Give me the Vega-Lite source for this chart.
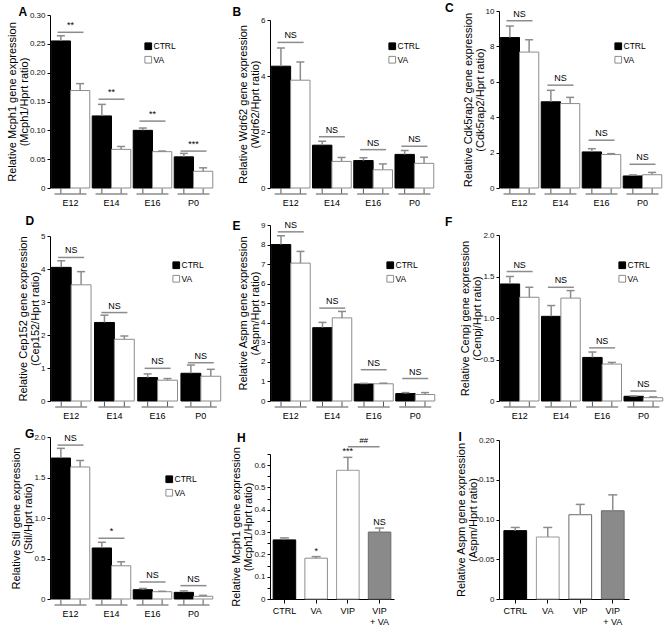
{
"$schema":"https://vega.github.io/schema/vega-lite/v6.json",
"padding":{"left":6,"top":2,"right":0,"bottom":0},
"columns":3,
"align":"each",
"spacing":{"row":8,"column":8},
"resolve":{"scale":{"fill":"independent","stroke":"independent","xOffset":"independent"},"legend":{"fill":"independent","stroke":"independent"}},
"datasets":{
"A":[{"t":"E12","g":"CTRL","v":0.255,"hi":0.264},{"t":"E12","g":"VA","v":0.169,"hi":0.181},{"t":"E14","g":"CTRL","v":0.125,"hi":0.145},{"t":"E14","g":"VA","v":0.067,"hi":0.072},{"t":"E16","g":"CTRL","v":0.1,"hi":0.104},{"t":"E16","g":"VA","v":0.063,"hi":0.064},{"t":"P0","g":"CTRL","v":0.054,"hi":0.06},{"t":"P0","g":"VA","v":0.029,"hi":0.035}],
"As":[{"t":"E12","s":0.27,"lab":"**"},{"t":"E14","s":0.154,"lab":"**"},{"t":"E16","s":0.116,"lab":"**"},{"t":"P0","s":0.064,"lab":"***"}],
"B":[{"t":"E12","g":"CTRL","v":4.35,"hi":5.0},{"t":"E12","g":"VA","v":3.85,"hi":4.5},{"t":"E14","g":"CTRL","v":1.53,"hi":1.67},{"t":"E14","g":"VA","v":0.95,"hi":1.09},{"t":"E16","g":"CTRL","v":0.98,"hi":1.08},{"t":"E16","g":"VA","v":0.65,"hi":0.86},{"t":"P0","g":"CTRL","v":1.2,"hi":1.34},{"t":"P0","g":"VA","v":0.88,"hi":1.1}],
"Bs":[{"t":"E12","s":5.2,"lab":"NS"},{"t":"E14","s":1.83,"lab":"NS"},{"t":"E16","s":1.37,"lab":"NS"},{"t":"P0","s":1.49,"lab":"NS"}],
"C":[{"t":"E12","g":"CTRL","v":8.5,"hi":9.15},{"t":"E12","g":"VA","v":7.68,"hi":8.37},{"t":"E14","g":"CTRL","v":4.87,"hi":5.52},{"t":"E14","g":"VA","v":4.77,"hi":5.12},{"t":"E16","g":"CTRL","v":2.04,"hi":2.22},{"t":"E16","g":"VA","v":1.89,"hi":1.94},{"t":"P0","g":"CTRL","v":0.68,"hi":0.74},{"t":"P0","g":"VA","v":0.75,"hi":0.88}],
"Cs":[{"t":"E12","s":9.45,"lab":"NS"},{"t":"E14","s":5.81,"lab":"NS"},{"t":"E16","s":2.7,"lab":"NS"},{"t":"P0","s":1.34,"lab":"NS"}],
"D":[{"t":"E12","g":"CTRL","v":4.05,"hi":4.25},{"t":"E12","g":"VA","v":3.52,"hi":3.92},{"t":"E14","g":"CTRL","v":2.38,"hi":2.6},{"t":"E14","g":"VA","v":1.87,"hi":1.97},{"t":"E16","g":"CTRL","v":0.71,"hi":0.82},{"t":"E16","g":"VA","v":0.63,"hi":0.68},{"t":"P0","g":"CTRL","v":0.84,"hi":1.09},{"t":"P0","g":"VA","v":0.75,"hi":0.96}],
"Ds":[{"t":"E12","s":4.35,"lab":"NS"},{"t":"E14","s":2.68,"lab":"NS"},{"t":"E16","s":0.99,"lab":"NS"},{"t":"P0","s":1.16,"lab":"NS"}],
"E":[{"t":"E12","g":"CTRL","v":8.0,"hi":8.45},{"t":"E12","g":"VA","v":7.05,"hi":7.65},{"t":"E14","g":"CTRL","v":3.75,"hi":4.02},{"t":"E14","g":"VA","v":4.25,"hi":4.58},{"t":"E16","g":"CTRL","v":0.87,"hi":0.9},{"t":"E16","g":"VA","v":0.88,"hi":0.91},{"t":"P0","g":"CTRL","v":0.38,"hi":0.43},{"t":"P0","g":"VA","v":0.33,"hi":0.43}],
"Es":[{"t":"E12","s":8.65,"lab":"NS"},{"t":"E14","s":4.75,"lab":"NS"},{"t":"E16","s":1.6,"lab":"NS"},{"t":"P0","s":1.15,"lab":"NS"}],
"F":[{"t":"E12","g":"CTRL","v":1.41,"hi":1.5},{"t":"E12","g":"VA","v":1.25,"hi":1.37},{"t":"E14","g":"CTRL","v":1.02,"hi":1.15},{"t":"E14","g":"VA","v":1.24,"hi":1.33},{"t":"E16","g":"CTRL","v":0.525,"hi":0.59},{"t":"E16","g":"VA","v":0.445,"hi":0.465},{"t":"P0","g":"CTRL","v":0.057,"hi":0.06},{"t":"P0","g":"VA","v":0.04,"hi":0.05}],
"Fs":[{"t":"E12","s":1.56,"lab":"NS"},{"t":"E14","s":1.37,"lab":"NS"},{"t":"E16","s":0.64,"lab":"NS"},{"t":"P0","s":0.12,"lab":"NS"}],
"G":[{"t":"E12","g":"CTRL","v":1.74,"hi":1.86},{"t":"E12","g":"VA","v":1.63,"hi":1.71},{"t":"E14","g":"CTRL","v":0.63,"hi":0.7},{"t":"E14","g":"VA","v":0.41,"hi":0.46},{"t":"E16","g":"CTRL","v":0.115,"hi":0.13},{"t":"E16","g":"VA","v":0.09,"hi":0.095},{"t":"P0","g":"CTRL","v":0.082,"hi":0.1},{"t":"P0","g":"VA","v":0.033,"hi":0.045}],
"Gs":[{"t":"E12","s":1.9,"lab":"NS"},{"t":"E14","s":0.75,"lab":"*"},{"t":"E16","s":0.21,"lab":"NS"},{"t":"P0","s":0.165,"lab":"NS"}],
"H":[{"c":"CTRL","v":0.265,"hi":0.274,"lab":""},{"c":"VA","v":0.183,"hi":0.19,"lab":"*"},{"c":"VIP","v":0.577,"hi":0.635,"lab":"***"},{"c":"VIP + VA","v":0.3,"hi":0.318,"lab":"NS"}],
"Hs":[{"from":"VIP","to":"VIP + VA","s":0.682,"lab":"##"}],
"I":[{"c":"CTRL","v":0.086,"hi":0.09},{"c":"VA","v":0.078,"hi":0.09},{"c":"VIP","v":0.106,"hi":0.119},{"c":"VIP + VA","v":0.111,"hi":0.131}]
},
"concat":[
{"width":164,"height":177,"title":{"text":"A","dx":12},
"resolve":{"axis":{"x":"independent","y":"independent"}},
"layer":[
{"data":{"name":"A"},"mark":{"type":"bar","strokeWidth":1},"encoding":{
"x":{"field":"t","type":"nominal","scale":{"domain":["E12","E14","E16","P0"],"paddingInner":0.06,"paddingOuter":0.03},"axis":{"title":null,"domain":false,"ticks":false,"labelPadding":10}},
"xOffset":{"field":"g","type":"nominal","scale":{"domain":["CTRL","VA"]}},
"y":{"field":"v","type":"quantitative","scale":{"domain":[0,0.3],"range":[177,4],"nice":false},"axis":{"title":["Relative Mcph1 gene expression","(Mcph1/Hprt ratio)"],"values":[0,0.05,0.1,0.15,0.2,0.25,0.3],"labelOverlap":false,"labelExpr":"datum.value == 0 ? '0' : format(datum.value, '.2f')"}},
"fill":{"field":"g","type":"nominal","scale":{"domain":["CTRL","VA"],"range":["#000000","#ffffff"]},"legend":{"title":null,"orient":"none","legendX":94,"legendY":31}},
"stroke":{"field":"g","type":"nominal","scale":{"domain":["CTRL","VA"],"range":["#000000","#8c8c8c"]},"legend":null}}},
{"data":{"name":"A"},"mark":{"type":"rule","color":"#8c8c8c","strokeWidth":1.5},"encoding":{"x":{"field":"t","type":"nominal","axis":null},"xOffset":{"field":"g","type":"nominal"},"y":{"field":"v","type":"quantitative","axis":null},"y2":{"field":"hi"}}},
{"data":{"name":"A"},"mark":{"type":"tick","color":"#8c8c8c","thickness":1.5,"size":8,"opacity":1},"encoding":{"x":{"field":"t","type":"nominal","axis":null},"xOffset":{"field":"g","type":"nominal"},"y":{"field":"hi","type":"quantitative","axis":null}}},
{"data":{"name":"A"},"mark":{"type":"tick","orient":"vertical","color":"#555555","thickness":1,"size":5,"yOffset":3,"opacity":1},"encoding":{"x":{"field":"t","type":"nominal","axis":null},"xOffset":{"field":"g","type":"nominal"},"y":{"datum":0,"type":"quantitative","axis":null}}},
{"data":{"name":"As"},"mark":{"type":"tick","color":"#555555","thickness":1.2,"size":32,"yOffset":6,"opacity":1},"encoding":{"x":{"field":"t","type":"nominal","axis":null},"y":{"datum":0,"type":"quantitative","axis":null}}},
{"data":{"name":"As"},"mark":{"type":"tick","color":"#8c8c8c","thickness":1.5,"size":26,"opacity":1},"encoding":{"x":{"field":"t","type":"nominal","axis":null},"y":{"field":"s","type":"quantitative","axis":null}}},
{"data":{"name":"As"},"mark":{"type":"text","fontSize":9,"baseline":"bottom","dy":-2,"color":"#000000"},"encoding":{"x":{"field":"t","type":"nominal","axis":null},"y":{"field":"s","type":"quantitative","axis":null},"text":{"field":"lab"}}}
]},
{"width":165,"height":177,"title":{"text":"B","dx":-5},
"resolve":{"axis":{"x":"independent","y":"independent"}},
"layer":[
{"data":{"name":"B"},"mark":{"type":"bar","strokeWidth":1},"encoding":{
"x":{"field":"t","type":"nominal","scale":{"domain":["E12","E14","E16","P0"],"paddingInner":0.06,"paddingOuter":0.03},"axis":{"title":null,"domain":false,"ticks":false,"labelPadding":10}},
"xOffset":{"field":"g","type":"nominal","scale":{"domain":["CTRL","VA"]}},
"y":{"field":"v","type":"quantitative","scale":{"domain":[0,6],"range":[177,9],"nice":false},"axis":{"title":["Relative Wdr62 gene expression","(Wdr62/Hprt ratio)"],"values":[0,2,4,6],"labelOverlap":false}},
"fill":{"field":"g","type":"nominal","scale":{"domain":["CTRL","VA"],"range":["#000000","#ffffff"]},"legend":{"title":null,"orient":"none","legendX":118,"legendY":31}},
"stroke":{"field":"g","type":"nominal","scale":{"domain":["CTRL","VA"],"range":["#000000","#8c8c8c"]},"legend":null}}},
{"data":{"name":"B"},"mark":{"type":"rule","color":"#8c8c8c","strokeWidth":1.5},"encoding":{"x":{"field":"t","type":"nominal","axis":null},"xOffset":{"field":"g","type":"nominal"},"y":{"field":"v","type":"quantitative","axis":null},"y2":{"field":"hi"}}},
{"data":{"name":"B"},"mark":{"type":"tick","color":"#8c8c8c","thickness":1.5,"size":8,"opacity":1},"encoding":{"x":{"field":"t","type":"nominal","axis":null},"xOffset":{"field":"g","type":"nominal"},"y":{"field":"hi","type":"quantitative","axis":null}}},
{"data":{"name":"B"},"mark":{"type":"tick","orient":"vertical","color":"#555555","thickness":1,"size":5,"yOffset":3,"opacity":1},"encoding":{"x":{"field":"t","type":"nominal","axis":null},"xOffset":{"field":"g","type":"nominal"},"y":{"datum":0,"type":"quantitative","axis":null}}},
{"data":{"name":"Bs"},"mark":{"type":"tick","color":"#555555","thickness":1.2,"size":32,"yOffset":6,"opacity":1},"encoding":{"x":{"field":"t","type":"nominal","axis":null},"y":{"datum":0,"type":"quantitative","axis":null}}},
{"data":{"name":"Bs"},"mark":{"type":"tick","color":"#8c8c8c","thickness":1.5,"size":26,"opacity":1},"encoding":{"x":{"field":"t","type":"nominal","axis":null},"y":{"field":"s","type":"quantitative","axis":null}}},
{"data":{"name":"Bs"},"mark":{"type":"text","fontSize":9,"baseline":"bottom","dy":-2,"color":"#000000"},"encoding":{"x":{"field":"t","type":"nominal","axis":null},"y":{"field":"s","type":"quantitative","axis":null},"text":{"field":"lab"}}}
]},
{"width":164,"height":177,"title":{"text":"C","dx":-17},
"resolve":{"axis":{"x":"independent","y":"independent"}},
"layer":[
{"data":{"name":"C"},"mark":{"type":"bar","strokeWidth":1},"encoding":{
"x":{"field":"t","type":"nominal","scale":{"domain":["E12","E14","E16","P0"],"paddingInner":0.06,"paddingOuter":0.03},"axis":{"title":null,"domain":false,"ticks":false,"labelPadding":10}},
"xOffset":{"field":"g","type":"nominal","scale":{"domain":["CTRL","VA"]}},
"y":{"field":"v","type":"quantitative","scale":{"domain":[0,10],"range":[177,0],"nice":false},"axis":{"title":["Relative Cdk5rap2 gene expression","(Cdk5rap2/Hprt ratio)"],"values":[0,2,4,6,8,10],"labelOverlap":false}},
"fill":{"field":"g","type":"nominal","scale":{"domain":["CTRL","VA"],"range":["#000000","#ffffff"]},"legend":{"title":null,"orient":"none","legendX":115,"legendY":31}},
"stroke":{"field":"g","type":"nominal","scale":{"domain":["CTRL","VA"],"range":["#000000","#8c8c8c"]},"legend":null}}},
{"data":{"name":"C"},"mark":{"type":"rule","color":"#8c8c8c","strokeWidth":1.5},"encoding":{"x":{"field":"t","type":"nominal","axis":null},"xOffset":{"field":"g","type":"nominal"},"y":{"field":"v","type":"quantitative","axis":null},"y2":{"field":"hi"}}},
{"data":{"name":"C"},"mark":{"type":"tick","color":"#8c8c8c","thickness":1.5,"size":8,"opacity":1},"encoding":{"x":{"field":"t","type":"nominal","axis":null},"xOffset":{"field":"g","type":"nominal"},"y":{"field":"hi","type":"quantitative","axis":null}}},
{"data":{"name":"C"},"mark":{"type":"tick","orient":"vertical","color":"#555555","thickness":1,"size":5,"yOffset":3,"opacity":1},"encoding":{"x":{"field":"t","type":"nominal","axis":null},"xOffset":{"field":"g","type":"nominal"},"y":{"datum":0,"type":"quantitative","axis":null}}},
{"data":{"name":"Cs"},"mark":{"type":"tick","color":"#555555","thickness":1.2,"size":32,"yOffset":6,"opacity":1},"encoding":{"x":{"field":"t","type":"nominal","axis":null},"y":{"datum":0,"type":"quantitative","axis":null}}},
{"data":{"name":"Cs"},"mark":{"type":"tick","color":"#8c8c8c","thickness":1.5,"size":26,"opacity":1},"encoding":{"x":{"field":"t","type":"nominal","axis":null},"y":{"field":"s","type":"quantitative","axis":null}}},
{"data":{"name":"Cs"},"mark":{"type":"text","fontSize":9,"baseline":"bottom","dy":-2,"color":"#000000"},"encoding":{"x":{"field":"t","type":"nominal","axis":null},"y":{"field":"s","type":"quantitative","axis":null},"text":{"field":"lab"}}}
]},
{"width":172,"height":176,"title":{"text":"D","dx":8,"dy":-5},
"resolve":{"axis":{"x":"independent","y":"independent"}},
"layer":[
{"data":{"name":"D"},"mark":{"type":"bar","strokeWidth":1},"encoding":{
"x":{"field":"t","type":"nominal","scale":{"domain":["E12","E14","E16","P0"],"paddingInner":0.08,"paddingOuter":0.03},"axis":{"title":null,"domain":false,"ticks":false,"labelPadding":10}},
"xOffset":{"field":"g","type":"nominal","scale":{"domain":["CTRL","VA"]}},
"y":{"field":"v","type":"quantitative","scale":{"domain":[0,5],"range":[176,11],"nice":false},"axis":{"title":["Relative Cep152 gene expression","(Cep152/Hprt ratio)"],"values":[0,1,2,3,4,5],"labelOverlap":false}},
"fill":{"field":"g","type":"nominal","scale":{"domain":["CTRL","VA"],"range":["#000000","#ffffff"]},"legend":{"title":null,"orient":"none","legendX":122,"legendY":36}},
"stroke":{"field":"g","type":"nominal","scale":{"domain":["CTRL","VA"],"range":["#000000","#8c8c8c"]},"legend":null}}},
{"data":{"name":"D"},"mark":{"type":"rule","color":"#8c8c8c","strokeWidth":1.5},"encoding":{"x":{"field":"t","type":"nominal","axis":null},"xOffset":{"field":"g","type":"nominal"},"y":{"field":"v","type":"quantitative","axis":null},"y2":{"field":"hi"}}},
{"data":{"name":"D"},"mark":{"type":"tick","color":"#8c8c8c","thickness":1.5,"size":8,"opacity":1},"encoding":{"x":{"field":"t","type":"nominal","axis":null},"xOffset":{"field":"g","type":"nominal"},"y":{"field":"hi","type":"quantitative","axis":null}}},
{"data":{"name":"D"},"mark":{"type":"tick","orient":"vertical","color":"#555555","thickness":1,"size":5,"yOffset":3,"opacity":1},"encoding":{"x":{"field":"t","type":"nominal","axis":null},"xOffset":{"field":"g","type":"nominal"},"y":{"datum":0,"type":"quantitative","axis":null}}},
{"data":{"name":"Ds"},"mark":{"type":"tick","color":"#555555","thickness":1.2,"size":32,"yOffset":6,"opacity":1},"encoding":{"x":{"field":"t","type":"nominal","axis":null},"y":{"datum":0,"type":"quantitative","axis":null}}},
{"data":{"name":"Ds"},"mark":{"type":"tick","color":"#8c8c8c","thickness":1.5,"size":26,"opacity":1},"encoding":{"x":{"field":"t","type":"nominal","axis":null},"y":{"field":"s","type":"quantitative","axis":null}}},
{"data":{"name":"Ds"},"mark":{"type":"text","fontSize":9,"baseline":"bottom","dy":-2,"color":"#000000"},"encoding":{"x":{"field":"t","type":"nominal","axis":null},"y":{"field":"s","type":"quantitative","axis":null},"text":{"field":"lab"}}}
]},
{"width":166,"height":176,"title":{"text":"E","dx":-5,"dy":4},
"resolve":{"axis":{"x":"independent","y":"independent"}},
"layer":[
{"data":{"name":"E"},"mark":{"type":"bar","strokeWidth":1},"encoding":{
"x":{"field":"t","type":"nominal","scale":{"domain":["E12","E14","E16","P0"],"paddingInner":0.06,"paddingOuter":0.03},"axis":{"title":null,"domain":false,"ticks":false,"labelPadding":10}},
"xOffset":{"field":"g","type":"nominal","scale":{"domain":["CTRL","VA"]}},
"y":{"field":"v","type":"quantitative","scale":{"domain":[0,9],"range":[176,0],"nice":false},"axis":{"title":["Relative Aspm gene expression","(Aspm/Hprt ratio)"],"values":[0,1,2,3,4,5,6,7,8,9],"labelOverlap":false}},
"fill":{"field":"g","type":"nominal","scale":{"domain":["CTRL","VA"],"range":["#000000","#ffffff"]},"legend":{"title":null,"orient":"none","legendX":116,"legendY":36}},
"stroke":{"field":"g","type":"nominal","scale":{"domain":["CTRL","VA"],"range":["#000000","#8c8c8c"]},"legend":null}}},
{"data":{"name":"E"},"mark":{"type":"rule","color":"#8c8c8c","strokeWidth":1.5},"encoding":{"x":{"field":"t","type":"nominal","axis":null},"xOffset":{"field":"g","type":"nominal"},"y":{"field":"v","type":"quantitative","axis":null},"y2":{"field":"hi"}}},
{"data":{"name":"E"},"mark":{"type":"tick","color":"#8c8c8c","thickness":1.5,"size":8,"opacity":1},"encoding":{"x":{"field":"t","type":"nominal","axis":null},"xOffset":{"field":"g","type":"nominal"},"y":{"field":"hi","type":"quantitative","axis":null}}},
{"data":{"name":"E"},"mark":{"type":"tick","orient":"vertical","color":"#555555","thickness":1,"size":5,"yOffset":3,"opacity":1},"encoding":{"x":{"field":"t","type":"nominal","axis":null},"xOffset":{"field":"g","type":"nominal"},"y":{"datum":0,"type":"quantitative","axis":null}}},
{"data":{"name":"Es"},"mark":{"type":"tick","color":"#555555","thickness":1.2,"size":32,"yOffset":6,"opacity":1},"encoding":{"x":{"field":"t","type":"nominal","axis":null},"y":{"datum":0,"type":"quantitative","axis":null}}},
{"data":{"name":"Es"},"mark":{"type":"tick","color":"#8c8c8c","thickness":1.5,"size":26,"opacity":1},"encoding":{"x":{"field":"t","type":"nominal","axis":null},"y":{"field":"s","type":"quantitative","axis":null}}},
{"data":{"name":"Es"},"mark":{"type":"text","fontSize":9,"baseline":"bottom","dy":-2,"color":"#000000"},"encoding":{"x":{"field":"t","type":"nominal","axis":null},"y":{"field":"s","type":"quantitative","axis":null},"text":{"field":"lab"}}}
]},
{"width":165,"height":176,"title":{"text":"F","dx":-15,"dy":-4},
"resolve":{"axis":{"x":"independent","y":"independent"}},
"layer":[
{"data":{"name":"F"},"mark":{"type":"bar","strokeWidth":1},"encoding":{
"x":{"field":"t","type":"nominal","scale":{"domain":["E12","E14","E16","P0"],"paddingInner":0.06,"paddingOuter":0.03},"axis":{"title":null,"domain":false,"ticks":false,"labelPadding":10}},
"xOffset":{"field":"g","type":"nominal","scale":{"domain":["CTRL","VA"]}},
"y":{"field":"v","type":"quantitative","scale":{"domain":[0,2],"range":[176,10],"nice":false},"axis":{"title":["Relative Cenpj gene expression","(Cenpj/Hprt ratio)"],"values":[0,0.5,1,1.5,2],"labelOverlap":false,"labelExpr":"datum.value == 0 ? '0' : format(datum.value, '.1f')"}},
"fill":{"field":"g","type":"nominal","scale":{"domain":["CTRL","VA"],"range":["#000000","#ffffff"]},"legend":{"title":null,"orient":"none","legendX":119,"legendY":36}},
"stroke":{"field":"g","type":"nominal","scale":{"domain":["CTRL","VA"],"range":["#000000","#8c8c8c"]},"legend":null}}},
{"data":{"name":"F"},"mark":{"type":"rule","color":"#8c8c8c","strokeWidth":1.5},"encoding":{"x":{"field":"t","type":"nominal","axis":null},"xOffset":{"field":"g","type":"nominal"},"y":{"field":"v","type":"quantitative","axis":null},"y2":{"field":"hi"}}},
{"data":{"name":"F"},"mark":{"type":"tick","color":"#8c8c8c","thickness":1.5,"size":8,"opacity":1},"encoding":{"x":{"field":"t","type":"nominal","axis":null},"xOffset":{"field":"g","type":"nominal"},"y":{"field":"hi","type":"quantitative","axis":null}}},
{"data":{"name":"F"},"mark":{"type":"tick","orient":"vertical","color":"#555555","thickness":1,"size":5,"yOffset":3,"opacity":1},"encoding":{"x":{"field":"t","type":"nominal","axis":null},"xOffset":{"field":"g","type":"nominal"},"y":{"datum":0,"type":"quantitative","axis":null}}},
{"data":{"name":"Fs"},"mark":{"type":"tick","color":"#555555","thickness":1.2,"size":32,"yOffset":6,"opacity":1},"encoding":{"x":{"field":"t","type":"nominal","axis":null},"y":{"datum":0,"type":"quantitative","axis":null}}},
{"data":{"name":"Fs"},"mark":{"type":"tick","color":"#8c8c8c","thickness":1.5,"size":26,"opacity":1},"encoding":{"x":{"field":"t","type":"nominal","axis":null},"y":{"field":"s","type":"quantitative","axis":null}}},
{"data":{"name":"Fs"},"mark":{"type":"text","fontSize":9,"baseline":"bottom","dy":-2,"color":"#000000"},"encoding":{"x":{"field":"t","type":"nominal","axis":null},"y":{"field":"s","type":"quantitative","axis":null},"text":{"field":"lab"}}}
]},
{"width":164,"height":162,"title":{"text":"G","dx":14},
"resolve":{"axis":{"x":"independent","y":"independent"}},
"layer":[
{"data":{"name":"G"},"mark":{"type":"bar","strokeWidth":1},"encoding":{
"x":{"field":"t","type":"nominal","scale":{"domain":["E12","E14","E16","P0"],"paddingInner":0.06,"paddingOuter":0.03},"axis":{"title":null,"domain":false,"ticks":false,"labelPadding":10}},
"xOffset":{"field":"g","type":"nominal","scale":{"domain":["CTRL","VA"]}},
"y":{"field":"v","type":"quantitative","scale":{"domain":[0,2],"range":[162,0],"nice":false},"axis":{"title":["Relative Stil gene expression","(Stil/Hprt ratio)"],"values":[0,0.5,1,1.5,2],"labelOverlap":false,"labelExpr":"datum.value == 0 ? '0' : format(datum.value, '.1f')"}},
"fill":{"field":"g","type":"nominal","scale":{"domain":["CTRL","VA"],"range":["#000000","#ffffff"]},"legend":{"title":null,"orient":"none","legendX":115,"legendY":38}},
"stroke":{"field":"g","type":"nominal","scale":{"domain":["CTRL","VA"],"range":["#000000","#8c8c8c"]},"legend":null}}},
{"data":{"name":"G"},"mark":{"type":"rule","color":"#8c8c8c","strokeWidth":1.5},"encoding":{"x":{"field":"t","type":"nominal","axis":null},"xOffset":{"field":"g","type":"nominal"},"y":{"field":"v","type":"quantitative","axis":null},"y2":{"field":"hi"}}},
{"data":{"name":"G"},"mark":{"type":"tick","color":"#8c8c8c","thickness":1.5,"size":8,"opacity":1},"encoding":{"x":{"field":"t","type":"nominal","axis":null},"xOffset":{"field":"g","type":"nominal"},"y":{"field":"hi","type":"quantitative","axis":null}}},
{"data":{"name":"G"},"mark":{"type":"tick","orient":"vertical","color":"#555555","thickness":1,"size":5,"yOffset":3,"opacity":1},"encoding":{"x":{"field":"t","type":"nominal","axis":null},"xOffset":{"field":"g","type":"nominal"},"y":{"datum":0,"type":"quantitative","axis":null}}},
{"data":{"name":"Gs"},"mark":{"type":"tick","color":"#555555","thickness":1.2,"size":32,"yOffset":6,"opacity":1},"encoding":{"x":{"field":"t","type":"nominal","axis":null},"y":{"datum":0,"type":"quantitative","axis":null}}},
{"data":{"name":"Gs"},"mark":{"type":"tick","color":"#8c8c8c","thickness":1.5,"size":26,"opacity":1},"encoding":{"x":{"field":"t","type":"nominal","axis":null},"y":{"field":"s","type":"quantitative","axis":null}}},
{"data":{"name":"Gs"},"mark":{"type":"text","fontSize":9,"baseline":"bottom","dy":-2,"color":"#000000"},"encoding":{"x":{"field":"t","type":"nominal","axis":null},"y":{"field":"s","type":"quantitative","axis":null},"text":{"field":"lab"}}}
]},
{"width":124,"height":162,"title":{"text":"H","dx":6},
"resolve":{"axis":{"x":"independent","y":"independent"}},
"layer":[
{"data":{"name":"H"},"mark":{"type":"bar","strokeWidth":1},"encoding":{
"x":{"field":"c","type":"nominal","scale":{"domain":["CTRL","VA","VIP","VIP + VA"],"paddingInner":0.29,"paddingOuter":0.1},"axis":{"title":null,"tickSize":4,"labelPadding":3,"labelExpr":"datum.value == 'VIP + VA' ? ['VIP', '+ VA'] : datum.value"}},
"y":{"field":"v","type":"quantitative","scale":{"domain":[0,0.65],"range":[162,17],"nice":false},"axis":{"title":["Relative Mcph1 gene expression","(Mcph1/Hprt ratio)"],"values":[0,0.05,0.1,0.15,0.2,0.25,0.3,0.35,0.4,0.45,0.5,0.55,0.6,0.65],"labelOverlap":false,"labelExpr":"abs(datum.value*10 - round(datum.value*10)) < 0.01 ? (datum.value == 0 ? '0' : format(datum.value, '.1f')) : ''"}},
"fill":{"field":"c","type":"nominal","scale":{"domain":["CTRL","VA","VIP","VIP + VA"],"range":["#000000","#ffffff","#ffffff","#8a8a8a"]},"legend":null},
"stroke":{"field":"c","type":"nominal","scale":{"domain":["CTRL","VA","VIP","VIP + VA"],"range":["#000000","#8c8c8c","#9a9a9a","#6a6a6a"]},"legend":null}}},
{"data":{"name":"H"},"mark":{"type":"rule","color":"#8c8c8c","strokeWidth":1.5},"encoding":{"x":{"field":"c","type":"nominal","axis":null},"y":{"field":"v","type":"quantitative","axis":null},"y2":{"field":"hi"}}},
{"data":{"name":"H"},"mark":{"type":"tick","color":"#8c8c8c","thickness":1.5,"size":9,"opacity":1},"encoding":{"x":{"field":"c","type":"nominal","axis":null},"y":{"field":"hi","type":"quantitative","axis":null}}},
{"data":{"name":"H"},"mark":{"type":"text","fontSize":9,"baseline":"bottom","dy":-1,"color":"#000000"},"encoding":{"x":{"field":"c","type":"nominal","axis":null},"y":{"field":"hi","type":"quantitative","axis":null},"text":{"field":"lab"}}},
{"data":{"name":"Hs"},"mark":{"type":"rule","color":"#8c8c8c","strokeWidth":1.5},"encoding":{"x":{"field":"from","type":"nominal","axis":null},"x2":{"field":"to"},"y":{"field":"s","type":"quantitative","axis":null}}},
{"data":{"name":"Hs"},"mark":{"type":"text","fontSize":8,"fontStyle":"italic","baseline":"bottom","dy":-2,"color":"#000000"},"encoding":{"x":{"field":"from","type":"nominal","bandPosition":1.2,"axis":null},"y":{"field":"s","type":"quantitative","axis":null},"text":{"field":"lab"}}}
]},
{"width":130,"height":162,"title":{"text":"I","dx":3},
"resolve":{"axis":{"x":"independent","y":"independent"}},
"layer":[
{"data":{"name":"I"},"mark":{"type":"bar","strokeWidth":1},"encoding":{
"x":{"field":"c","type":"nominal","scale":{"domain":["CTRL","VA","VIP","VIP + VA"],"paddingInner":0.3,"paddingOuter":0.15},"axis":{"title":null,"tickSize":4,"labelPadding":3,"labelExpr":"datum.value == 'VIP + VA' ? ['VIP', '+ VA'] : datum.value"}},
"y":{"field":"v","type":"quantitative","scale":{"domain":[0,0.2],"range":[162,3],"nice":false},"axis":{"title":["Relative Aspm gene expression","(Aspm/Hprt ratio)"],"values":[0,0.05,0.1,0.15,0.2],"labelOverlap":false,"labelExpr":"datum.value == 0 ? '0' : format(datum.value, '.2f')"}},
"fill":{"field":"c","type":"nominal","scale":{"domain":["CTRL","VA","VIP","VIP + VA"],"range":["#000000","#ffffff","#ffffff","#8a8a8a"]},"legend":null},
"stroke":{"field":"c","type":"nominal","scale":{"domain":["CTRL","VA","VIP","VIP + VA"],"range":["#000000","#9a9a9a","#6a6a6a","#6a6a6a"]},"legend":null}}},
{"data":{"name":"I"},"mark":{"type":"rule","color":"#8c8c8c","strokeWidth":1.5},"encoding":{"x":{"field":"c","type":"nominal","axis":null},"y":{"field":"v","type":"quantitative","axis":null},"y2":{"field":"hi"}}},
{"data":{"name":"I"},"mark":{"type":"tick","color":"#8c8c8c","thickness":1.5,"size":9,"opacity":1},"encoding":{"x":{"field":"c","type":"nominal","axis":null},"y":{"field":"hi","type":"quantitative","axis":null}}}
]}
],
"config":{
"view":{"stroke":null},
"font":"Liberation Sans",
"axis":{"domainColor":"#000000","tickColor":"#000000","labelColor":"#111111","titleColor":"#000000","labelFontSize":8,"titleFontSize":11,"titleFontWeight":"normal","grid":false,"tickSize":3,"labelPadding":2,"titlePadding":0,"titleLineHeight":12,"labelFont":"Liberation Sans","titleFont":"Liberation Sans","labelOverlap":false},
"axisX":{"labelFontSize":9,"labelColor":"#000000","labelAngle":0},
"legend":{"symbolType":"square","symbolSize":45,"symbolStrokeColor":"#000000","symbolStrokeWidth":1,"labelFontSize":8.5,"labelFont":"Liberation Sans","labelColor":"#000000","labelOffset":1,"rowPadding":1.5,"padding":0},
"title":{"fontSize":12,"fontWeight":"bold","anchor":"start","frame":"bounds","font":"Liberation Sans","offset":-8},
"text":{"font":"Liberation Sans"}
}
}
